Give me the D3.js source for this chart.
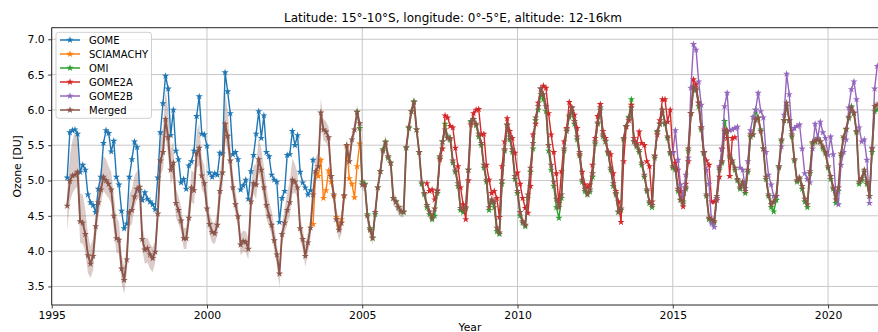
<!DOCTYPE html>
<html>
<head>
<meta charset="utf-8">
<script src="https://cdn.jsdelivr.net/npm/d3@7"></script>
<style>
  body { margin: 0; background: #ffffff; }
  svg { display: block; }
  text { font-family: "DejaVu Sans", sans-serif; fill: #000; }
</style>
</head>
<body>
<svg id="chart" width="878" height="332"></svg>
<script>
// Monthly mean ozone, 12-16 km, 15°-10°S / 0°-5°E, per instrument (DU)
const titleText = "Latitude: 15°-10°S, longitude: 0°-5°E, altitude: 12-16km";
const seriesNames = ["GOME", "SCIAMACHY", "OMI", "GOME2A", "GOME2B", "Merged"];
const seriesColors = ["#1f77b4", "#ff7f0e", "#2ca02c", "#d62728", "#9467bd", "#8c564b"];
const xTicks = [1995, 2000, 2005, 2010, 2015, 2020];
const yTicks = [3.5, 4.0, 4.5, 5.0, 5.5, 6.0, 6.5, 7.0];

// first month of each record as [year, month]
const gomeStart = [1995, 7];
const sciaStart = [2003, 6];
const omiStart = [2004, 11];
const gome2aStart = [2007, 2];
const gome2bStart = [2015, 1];
const mergedStart = [1995, 7];

const gome = [
  5.04, 5.68, 5.71, 5.72, 5.66, 5.12, 5.22, 5.15, 4.80, 4.69,
  4.65, 4.55, 4.88, 5.05, 5.53, 5.71, 5.67, 5.41, 5.56, 5.05,
  4.94, 4.57, 4.32, 4.39, 5.05, 5.30, 5.55, 5.47, 4.86, 4.72,
  4.83, 4.74, 4.70, 4.66, 4.59, 5.04, 5.68, 6.09, 6.48, 6.30,
  5.64, 6.00, 5.42, 5.30, 4.97, 5.02, 4.88, 5.21, 5.27, 5.42,
  5.91, 6.19, 5.66, 5.65, 5.49, 5.11, 5.05, 5.10, 5.08, 5.39,
  5.38, 6.53, 6.26, 5.95, 5.37, 5.40, 5.30, 4.87, 4.93, 5.01,
  4.74, 5.13, 5.36, 5.66, 5.98, 5.60, 5.92, 5.40, 5.34, 5.08,
  5.01, 4.98, 4.41, 4.75, 4.85, 5.36, 5.37, 5.70, 5.50, 5.64,
  5.12, 4.97, 4.90, 4.80, 4.86, 5.29
];

const scia = [
  4.38, 5.10, 5.06, 5.29, 4.75, 4.86, 5.14, 4.98, 4.78, 4.48,
  4.35, 4.45, 4.78, 5.48, 5.03, 4.95, 4.76, 5.20, 5.52
];

const omi = [
  5.97, 5.74, 4.98, 4.95, 4.52, 4.32, 4.18, 4.52, 4.90, 5.13,
  5.44, 5.55, 5.32, 5.25, 4.75, 4.70, 4.62, 4.56, 4.55, 5.46,
  5.74, 5.98, 6.12, 5.72, 5.40, 4.95, 4.80, 4.62, 4.52, 4.45,
  4.50, 4.82, 5.32, 5.55, 5.80, 5.62, 5.58, 5.25, 5.12, 4.92,
  4.58, 4.55, 4.60, 5.15, 5.84, 5.87, 5.78, 5.62, 5.50, 5.18,
  4.98, 4.58, 4.70, 4.62, 4.28, 4.24, 4.95, 5.42, 5.78, 5.58,
  5.40, 5.02, 4.82, 4.50, 4.40, 4.35, 4.75, 5.12, 5.45, 5.85,
  6.00, 6.22, 6.15, 5.98, 5.42, 5.15, 4.92, 4.62, 4.47, 4.75,
  5.42, 5.70, 5.90, 5.98, 5.80, 5.58, 5.35, 4.98, 4.85, 4.80,
  4.84, 5.05, 5.52, 5.80, 6.00, 5.62, 5.55, 5.38, 5.15, 4.92,
  4.80, 4.55, 4.58, 5.58, 5.77, 5.90, 6.15, 5.55, 5.48, 5.40,
  5.22, 5.05, 4.85, 4.68, 4.62, 5.32, 5.68, 5.80, 6.00, 5.80,
  5.60, 5.38, 5.18, 5.15, 4.85, 4.72, 4.70, 4.88, 5.42, 5.95,
  6.30, 6.28, 6.05, 5.72, 5.38, 4.78, 4.45, 4.42, 4.40, 4.75,
  5.15, 5.25, 5.84, 5.70, 5.32, 5.25, 5.15, 5.00, 4.88, 4.95,
  4.82, 5.12, 5.62, 5.65, 6.00, 5.88, 5.72, 5.45, 5.02, 4.78,
  4.62, 4.56, 4.72, 5.18, 5.56, 5.85, 6.05, 5.85, 5.62, 5.28,
  4.98, 5.02, 4.88, 4.70, 4.62, 5.10, 5.52, 5.55, 5.60, 5.55,
  5.45, 5.38, 5.18, 5.02, 4.88, 4.68, 4.85, 5.35, 5.60, 5.72,
  5.88, 6.05, 5.95, 5.68, 4.95, 5.00, 5.12, 4.95, 4.78, 5.40,
  5.98, 6.00
];

const gome2a = [
  4.96, 4.85, 4.87, 4.73, 4.85, 5.30, 5.45, 5.92, 5.89, 5.77,
  5.75, 5.46, 5.20, 4.90, 4.66, 4.45, 5.00, 5.79, 5.95, 6.00,
  6.01, 5.65, 5.66, 5.22, 5.01, 4.82, 4.85, 4.75, 4.48, 5.20,
  5.55, 5.88, 5.70, 5.60, 5.39, 5.11, 4.95, 4.75, 4.61, 4.54,
  4.92, 5.65, 5.80, 6.10, 6.30, 6.34, 6.31, 5.95, 5.65, 5.40,
  5.10, 4.68, 5.13, 5.55, 5.74, 6.11, 6.03, 5.93, 5.74, 5.37,
  5.12, 4.94, 4.90, 4.94, 5.22, 5.60, 5.91, 6.08, 5.70, 5.60,
  5.41, 5.37, 5.10, 4.85, 4.70, 4.41, 5.27, 5.76, 5.85, 6.07,
  5.60, 5.52, 5.69, 5.53, 5.50, 5.27, 5.20, 4.70, 5.35, 5.65,
  5.85, 6.15, 6.15, 5.83, 6.00, 5.40, 5.25, 5.15, 4.85, 4.63,
  4.95, 5.27, 5.95, 6.43, 6.36, 6.10, 5.75, 5.40, 5.28, 5.22,
  4.70, 4.70, 4.72, 5.05, 5.45, 5.72, 5.60, 5.06, 5.60, 5.61
];

const gome2b = [
  5.39, 5.71, 5.29, 4.94, 4.78, 5.08, 5.32, 6.31, 6.93, 6.85,
  6.40, 6.07, 5.40, 5.15, 4.95, 4.39, 4.34, 4.75, 5.20, 5.44,
  6.05, 6.24, 5.71, 5.72, 5.74, 5.76, 5.18, 5.15, 4.89, 5.27,
  5.71, 5.90, 6.00, 6.24, 5.98, 5.89, 5.40, 5.08, 4.94, 4.78,
  4.78, 5.20, 5.48, 5.93, 6.51, 6.22, 5.70, 5.74, 5.77, 5.79,
  5.45, 5.10, 5.02, 4.97, 5.45, 5.80, 5.60, 5.83, 5.68, 5.60,
  5.36, 5.62, 5.37, 4.82, 4.66, 5.22, 5.40, 5.58, 6.03, 6.29,
  6.40, 6.15, 5.75, 5.55, 5.58, 5.29, 4.68, 5.46, 6.30, 6.62
];

const merged = [
  4.64, 4.99, 5.07, 5.08, 5.12, 4.42, 4.40, 4.24, 3.94, 3.82,
  3.93, 4.35, 4.69, 4.87, 5.05, 5.00, 4.95, 4.87, 4.50, 4.18,
  4.16, 3.75, 3.59, 3.88, 4.55, 4.58, 4.77, 4.88, 4.91, 4.17,
  4.02, 4.04, 3.95, 3.90, 3.99, 4.53, 5.28, 5.40, 5.87, 5.61,
  5.15, 5.25, 4.68, 4.58, 4.43, 4.18, 4.18, 4.47, 4.90, 4.86,
  5.38, 5.46, 5.07, 4.96, 4.60, 4.38, 4.27, 4.25, 4.37, 4.85,
  5.11, 5.80, 5.63, 5.28, 4.90, 4.66, 4.49, 4.09, 4.14, 4.13,
  4.03, 4.70, 4.96, 4.94, 5.30, 5.15, 4.90, 4.65, 4.50, 4.37,
  4.15, 3.95, 3.68, 4.24, 4.40, 4.58, 4.69, 5.01, 4.98, 4.90,
  4.32, 4.17, 3.93, 4.12, 4.33, 4.80, 5.13, 5.20, 5.96, 5.72,
  5.69, 5.61, 5.06, 4.80, 4.45, 4.30, 4.40, 4.79, 5.50, 5.27,
  5.58, 5.72, 5.97, 5.81, 4.94, 4.94, 4.50, 4.30, 4.19, 4.55,
  4.90, 5.13, 5.42, 5.54, 5.34, 5.25, 4.75, 4.70, 4.62, 4.56,
  4.56, 5.47, 5.76, 5.98, 6.11, 5.72, 5.40, 4.97, 4.82, 4.65,
  4.56, 4.47, 4.60, 4.86, 5.34, 5.55, 5.72, 5.60, 5.60, 5.28,
  5.14, 4.96, 4.61, 4.58, 4.62, 5.15, 5.82, 5.87, 5.80, 5.66,
  5.53, 5.22, 5.01, 4.62, 4.73, 4.70, 4.33, 4.26, 5.00, 5.44,
  5.79, 5.62, 5.44, 5.06, 4.85, 4.55, 4.42, 4.37, 4.80, 5.18,
  5.53, 5.89, 6.05, 6.30, 6.22, 6.05, 5.50, 5.22, 4.98, 4.74,
  4.62, 4.80, 5.45, 5.72, 5.92, 6.03, 5.84, 5.62, 5.40, 5.01,
  4.88, 4.81, 4.87, 5.10, 5.55, 5.82, 6.03, 5.65, 5.56, 5.40,
  5.18, 4.96, 4.82, 4.56, 4.60, 5.60, 5.77, 5.88, 6.03, 5.55,
  5.50, 5.43, 5.25, 5.08, 4.87, 4.70, 4.65, 5.35, 5.70, 5.80,
  6.00, 5.82, 5.62, 5.40, 5.20, 5.18, 4.88, 4.73, 4.67, 4.90,
  5.45, 5.95, 6.33, 6.30, 6.10, 5.75, 5.40, 4.80, 4.47, 4.45,
  4.42, 4.78, 5.18, 5.27, 5.70, 5.70, 5.35, 5.28, 5.18, 5.02,
  4.90, 4.98, 4.85, 5.15, 5.65, 5.65, 5.86, 5.89, 5.70, 5.45,
  5.05, 4.80, 4.66, 4.70, 4.78, 5.20, 5.58, 5.85, 6.10, 5.85,
  5.65, 5.30, 5.00, 5.04, 4.92, 4.74, 4.66, 5.13, 5.54, 5.56,
  5.58, 5.55, 5.48, 5.40, 5.20, 5.06, 4.90, 4.73, 4.90, 5.38,
  5.62, 5.73, 5.90, 6.03, 5.96, 5.70, 4.98, 5.03, 5.15, 4.98,
  4.78, 5.45, 6.05, 6.07
];

// uncertainty envelope of the merged record: distance below / above (DU)
const mergedBandDown = [
  .35,.30,.25,.20,.20,.30,.30,.25,.25,.20,
  .20,.20,.20,.20,.20,.20,.20,.20,.20,.20,
  .20,.20,.20,.20,.20,.20,.15,.15,.15,.15,
  .20,.20,.20,.20,.15,.15,.20,.25,.25,.25,
  .20,.20,.20,.20,.15,.15,.15,.15,.20,.20,
  .20,.25,.20,.15,.15,.15,.15,.15,.15,.20,
  .20,.25,.20,.20,.15,.15,.15,.15,.15,.15,
  .15,.15,.15,.20,.20,.20,.20,.20,.15,.15,
  .15,.15,.20,.15,.15,.20,.20,.20,.15,.15,
  .15,.15,.15,.15,.15,.15,.15,.15,.15,.15,
  .15,.15,.10,.10,.10,.15,.15,.15,.10,.10,
  .10,.10,.10,.08,
  .08,.08,.10,.10,.10,.08,.08,.08,.08,.08,
  .08,.08,.10,.10,.10,.08,.08,.08,.10,.10,
  .08,.08,.07,.07,.08,.08,.07,.07,.06,.06,
  .06,.06,.07,.07,.06,.06,.06,.06,.06,.06,
  .07,.07,.06,.06,.06,.06,.06,.07,.07,.06,
  .06,.06,.06,.06,.07,.07,.06,.06,.06,.06,
  .06,.06,.06,.07,.07,.06,.06,.06,.06,.06,
  .07,.07,.06,.06,.06,.06,.06,.07,.07,.06,
  .06,.06,.06,.06,.07,.07,.06,.06,.06,.06,
  .06,.06,.07,.07,.06,.06,.06,.06,.06,.06,
  .07,.07,.06,.06,.06,.06,.06,.07,.07,.06,
  .06,.06,.06,.07,.08,.08,.07,.06,.06,.06,
  .06,.07,.08,.08,.07,.06,.06,.06,.06,.07,
  .07,.07,.06,.06,.06,.07,.07,.08,.08,.07,
  .06,.06,.06,.07,.07,.06,.06,.06,.06,.07,
  .07,.07,.06,.06,.06,.06,.07,.07,.08,.07,
  .06,.06,.06,.07,.07,.06,.06,.06,.06,.06,
  .07,.07,.06,.06,.06,.07,.07,.07,.06,.06,
  .06,.06,.07,.07,.06,.06,.06,.06,.07,.07,
  .07,.06,.06,.06,.07,.07,.06,.06,.06,.06
];
const mergedBandUp = [
  .20,.35,.50,.60,.55,.40,.40,.35,.30,.25,
  .25,.20,.25,.30,.30,.30,.25,.25,.30,.30,
  .25,.20,.20,.20,.25,.30,.30,.25,.25,.20,
  .15,.15,.15,.15,.15,.20,.30,.35,.40,.40,
  .30,.30,.20,.20,.20,.15,.15,.20,.25,.25,
  .30,.35,.25,.25,.20,.15,.15,.15,.20,.25,
  .30,.45,.35,.25,.20,.20,.15,.15,.15,.15,
  .15,.20,.25,.30,.30,.30,.30,.25,.20,.20,
  .20,.15,.15,.15,.20,.25,.30,.30,.25,.20,
  .15,.15,.15,.15,.15,.20,.20,.20,.20,.15,
  .15,.15,.15,.10,.15,.15,.10,.10,.10,.10,
  .10,.10,.10,.08,
  .08,.08,.08,.08,.08,.08,.08,.10,.10,.10,
  .08,.08,.08,.08,.08,.08,.10,.10,.12,.10,
  .08,.08,.07,.07,.07,.07,.07,.06,.06,.06,
  .06,.07,.07,.07,.06,.06,.06,.06,.06,.06,
  .07,.07,.06,.06,.06,.06,.06,.06,.07,.07,
  .06,.06,.06,.06,.06,.07,.07,.06,.06,.06,
  .06,.06,.06,.06,.07,.07,.06,.06,.06,.06,
  .07,.07,.06,.06,.06,.06,.06,.06,.07,.07,
  .06,.06,.06,.06,.06,.07,.07,.06,.06,.06,
  .06,.06,.06,.07,.07,.06,.06,.06,.06,.06,
  .07,.07,.06,.06,.06,.06,.06,.06,.07,.07,
  .06,.06,.06,.06,.07,.08,.08,.07,.06,.06,
  .06,.06,.07,.08,.08,.07,.06,.06,.06,.06,
  .07,.07,.07,.06,.06,.06,.07,.07,.08,.08,
  .07,.06,.06,.06,.07,.07,.06,.06,.06,.06,
  .07,.07,.07,.06,.06,.06,.06,.07,.08,.08,
  .07,.06,.06,.06,.07,.07,.06,.06,.06,.06,
  .06,.07,.07,.06,.06,.06,.07,.07,.07,.06,
  .06,.06,.06,.07,.07,.06,.06,.06,.06,.07,
  .07,.07,.06,.06,.06,.07,.07,.06,.06,.06
];

// ---------------------------------------------------------------
const W = 878, H = 332;
const plot = { left: 51.7, top: 27.7, right: 888, bottom: 305 };

const svg = d3.select("#chart");
svg.append("rect").attr("width", W).attr("height", H).attr("fill", "#fff");

const x = d3.scaleLinear().domain([1995, 2021.93]).range([plot.left, plot.right]);
const y = d3.scaleLinear().domain([3.237, 7.164]).range([plot.bottom, plot.top]);

function monthly(start, values) {
  return values.map((v, i) => ({ t: start[0] + (start[1] - 1 + i) / 12, v }));
}

svg.append("defs").append("clipPath").attr("id", "plotClip")
  .append("rect")
  .attr("x", plot.left).attr("y", plot.top)
  .attr("width", plot.right - plot.left).attr("height", plot.bottom - plot.top);

// grid
const grid = svg.append("g");
grid.selectAll("line.gx").data(xTicks).join("line")
  .attr("x1", d => x(d)).attr("x2", d => x(d))
  .attr("y1", plot.top).attr("y2", plot.bottom)
  .attr("stroke", "#c8c8c8").attr("stroke-width", 1);
grid.selectAll("line.gy").data(yTicks).join("line")
  .attr("x1", plot.left).attr("x2", plot.right)
  .attr("y1", d => y(d)).attr("y2", d => y(d))
  .attr("stroke", "#c8c8c8").attr("stroke-width", 1);

const dataLayer = svg.append("g").attr("clip-path", "url(#plotClip)");

// envelope of the merged record
const mergedPts = monthly(mergedStart, merged).map((p, i) => ({
  t: p.t, v: p.v, lo: p.v - mergedBandDown[i], hi: p.v + mergedBandUp[i]
}));
dataLayer.append("path")
  .datum(mergedPts)
  .attr("d", d3.area().x(d => x(d.t)).y0(d => y(d.lo)).y1(d => y(d.hi)))
  .attr("fill", "#8c564b").attr("fill-opacity", 0.3).attr("stroke", "none");

const star = d3.symbol().type(d3.symbolStar).size(16);
const line = d3.line().x(d => x(d.t)).y(d => y(d.v));

function drawSeries(pts, color, width) {
  const g = dataLayer.append("g");
  g.append("path").datum(pts).attr("d", line)
    .attr("fill", "none").attr("stroke", color)
    .attr("stroke-width", width).attr("stroke-linejoin", "round");
  g.selectAll("path.m").data(pts).join("path")
    .attr("class", "m")
    .attr("transform", d => `translate(${x(d.t)},${y(d.v)})`)
    .attr("d", star).attr("fill", color);
}

drawSeries(monthly(gomeStart, gome), seriesColors[0], 1.4);
drawSeries(monthly(sciaStart, scia), seriesColors[1], 1.4);
drawSeries(monthly(omiStart, omi), seriesColors[2], 1.4);
drawSeries(monthly(gome2aStart, gome2a), seriesColors[3], 1.4);
drawSeries(monthly(gome2bStart, gome2b), seriesColors[4], 1.4);
drawSeries(monthly(mergedStart, merged), seriesColors[5], 1.9);

// frame
const frame = svg.append("g").attr("fill", "none").attr("stroke", "#262626").attr("stroke-width", 1);
frame.append("line").attr("x1", plot.left).attr("x2", plot.left).attr("y1", plot.top).attr("y2", plot.bottom);
frame.append("line").attr("x1", plot.left).attr("x2", plot.right).attr("y1", plot.bottom).attr("y2", plot.bottom);
frame.append("line").attr("x1", plot.left).attr("x2", plot.right).attr("y1", plot.top).attr("y2", plot.top);
frame.append("line").attr("x1", plot.right).attr("x2", plot.right).attr("y1", plot.top).attr("y2", plot.bottom);

// axes
const xAxis = svg.append("g").attr("transform", `translate(0,${plot.bottom})`)
  .call(d3.axisBottom(x).tickValues(xTicks).tickFormat(d3.format("d")).tickSize(3.5).tickPadding(3));
const yAxis = svg.append("g").attr("transform", `translate(${plot.left},0)`)
  .call(d3.axisLeft(y).tickValues(yTicks).tickFormat(d3.format(".1f")).tickSize(3.5).tickPadding(3.5));
[xAxis, yAxis].forEach(a => {
  a.select(".domain").remove();
  a.selectAll(".tick line").attr("stroke", "#262626").attr("stroke-width", 0.9);
  a.selectAll(".tick text").attr("font-size", "10.8px")
    .attr("font-family", "DejaVu Sans, sans-serif").attr("fill", "#000");
});

// title and axis labels
svg.append("text").attr("x", 453).attr("y", 21.5).attr("text-anchor", "middle")
  .attr("font-size", "12px").text(titleText);
svg.append("text").attr("x", 470).attr("y", 330.5).attr("text-anchor", "middle")
  .attr("font-size", "10.8px").text("Year");
svg.append("text").attr("transform", `translate(20.5,${(plot.top + plot.bottom) / 2}) rotate(-90)`)
  .attr("text-anchor", "middle").attr("font-size", "10.8px").text("Ozone [DU]");

// legend
const lg = svg.append("g");
lg.append("rect").attr("x", 56).attr("y", 32.3).attr("width", 95.5).attr("height", 86)
  .attr("rx", 2.5).attr("fill", "#fff").attr("fill-opacity", 0.8)
  .attr("stroke", "#d0d0d0").attr("stroke-width", 1);
seriesNames.forEach((name, i) => {
  const cy = 40 + i * 14;
  const c = seriesColors[i];
  lg.append("line").attr("x1", 60).attr("x2", 80).attr("y1", cy).attr("y2", cy)
    .attr("stroke", c).attr("stroke-width", 1.5);
  lg.append("path").attr("transform", `translate(70,${cy})`).attr("d", star).attr("fill", c);
  lg.append("text").attr("x", 89).attr("y", cy).attr("dy", "0.36em")
    .attr("font-size", "10px").text(name);
});
</script>
</body>
</html>
